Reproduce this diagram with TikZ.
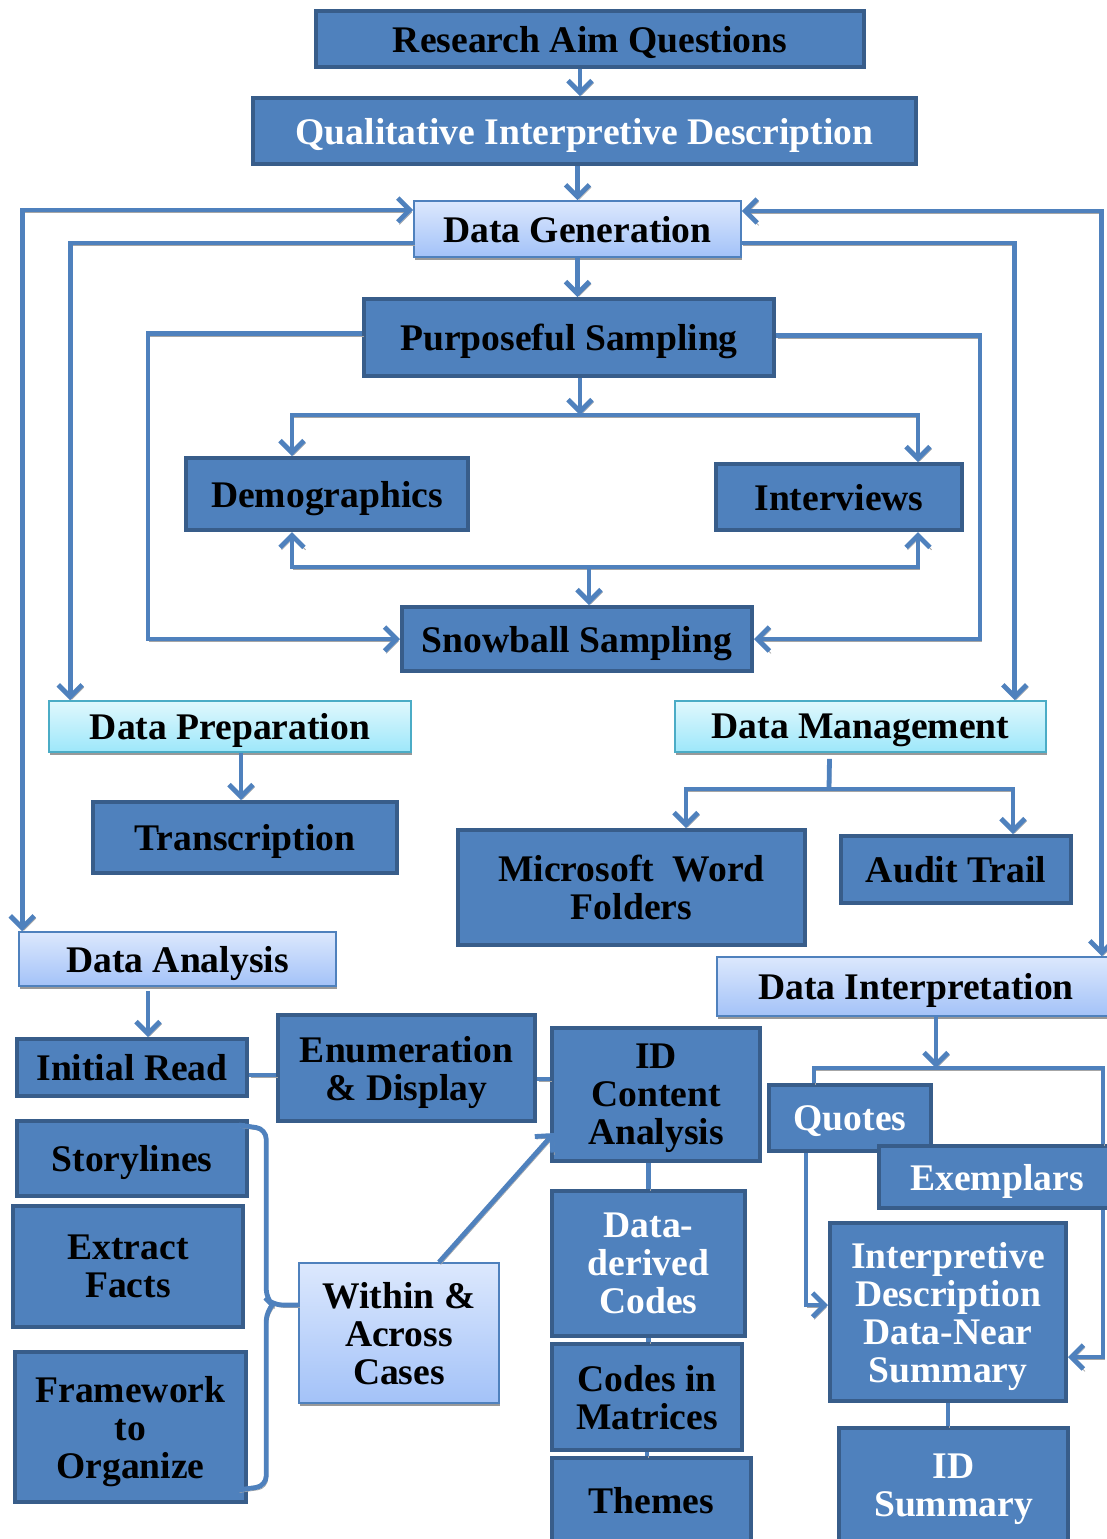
\documentclass[tikz,border=0pt]{standalone}
\usepackage{fontspec}
\setmainfont{Liberation Serif}
\usetikzlibrary{arrows.meta,shadows}
\definecolor{boxfill}{HTML}{4F81BD}
\definecolor{boxline}{HTML}{385D8A}
\definecolor{paleTop}{HTML}{DCE8FD}
\definecolor{paleBot}{HTML}{A3C2F8}
\definecolor{cyanTop}{HTML}{E0F8FD}
\definecolor{cyanBot}{HTML}{9DE7FA}
\definecolor{cyanLine}{HTML}{4BACC6}
\tikzset{
  boxsize/.style 2 args={minimum width=#1*0.5pt, minimum height=#2*0.5pt},
  darkbox/.style={draw=boxline, line width=2pt, fill=boxfill, align=center, inner sep=2pt,
    text depth=0pt, font=\fontsize{18.8}{19}\selectfont\bfseries},
  whitetext/.style={text=white},
  palebox/.style={darkbox, draw=boxfill, line width=0.8pt, top color=paleTop, bottom color=paleBot,
    drop shadow={shadow xshift=0.6pt, shadow yshift=-1.6pt, fill=black!40, opacity=1}},
  cyanbox/.style={palebox, draw=cyanLine, top color=cyanTop, bottom color=cyanBot},
  conn/.style={draw=boxfill, line width=2.4pt,
    preaction={draw=black!35, transform canvas={xshift=0.8pt, yshift=-1.2pt}}},
  arrowend/.style={-{Straight Barb[length=6pt, width=12pt]}},
  arrowboth/.style={{Straight Barb[length=6pt, width=12pt]}-{Straight Barb[length=6pt, width=12pt]}},
  brace/.style={conn, rounded corners=5pt}
}
\begin{document}
\begin{tikzpicture}[x=0.5pt, y=-0.5pt]
\useasboundingbox (0,0) rectangle (1107,1539);
% Generation part
\node[darkbox, boxsize={548}{56}] (raq) at (590,39) {Research Aim Questions};
\node[darkbox, whitetext, boxsize={663}{66}] (qid) at (584.5,131) {Qualitative Interpretive Description};
\node[palebox, boxsize={327}{56}] (dgen) at (577.5,229) {Data Generation};
\node[darkbox, boxsize={410}{77}] (psamp) at (569,337.5) {Purposeful Sampling};
\node[darkbox, boxsize={282}{72}] (demo) at (327,494) {Demographics};
\node[darkbox, boxsize={246}{66}] (intv) at (839,497) {Interviews};
\node[darkbox, boxsize={350}{64}] (snow) at (577,639) {Snowball Sampling};
% Preparation and management
\node[cyanbox, boxsize={362}{51}] (dprep) at (230,726.5) {Data Preparation};
\node[cyanbox, boxsize={371}{51}] (dman) at (860.5,726.5) {Data Management};
\node[darkbox, boxsize={304}{71}] (trans) at (245,837.5) {Transcription};
\node[darkbox, boxsize={347}{115}] (msw) at (631.5,887.5) {Microsoft\ \ Word\\Folders};
\node[darkbox, boxsize={230}{67}] (audit) at (956,869.5) {Audit Trail};
% Analysis part
\node[palebox, boxsize={317}{54}] (dana) at (177.5,959) {Data Analysis};
\node[darkbox, boxsize={230}{57}] (iread) at (132,1067.5) {Initial Read};
\node[darkbox, boxsize={257}{106}] (enum) at (406.5,1068) {Enumeration\\\& Display};
\node[darkbox, boxsize={208}{133}] (idca) at (656,1094.5) {ID\\Content\\Analysis};
\node[darkbox, boxsize={230}{75}] (story) at (132,1158.5) {Storylines};
\node[darkbox, boxsize={230}{121}] (extract) at (128,1266.5) {Extract\\Facts};
\node[darkbox, boxsize={231}{150}] (frame) at (130.5,1427) {Framework\\to\\Organize};
\node[palebox, boxsize={200}{140}] (within) at (399,1333) {Within \&\\Across\\Cases};
\node[darkbox, whitetext, boxsize={193}{145}] (ddc) at (648.5,1263.5) {Data-\\derived\\Codes};
\node[darkbox, boxsize={190}{106}] (cim) at (647,1397) {Codes in\\Matrices};
\node[darkbox, boxsize={199}{85}] (themes) at (651.5,1500) {Themes};
% Interpretation part
\node[palebox, boxsize={398}{59}] (dint) at (916,986.5) {Data Interpretation};
\node[darkbox, whitetext, boxsize={162}{66}] (quotes) at (850,1118) {Quotes};
\node[darkbox, whitetext, boxsize={236}{62}] (exemp) at (997,1177) {Exemplars};
\node[darkbox, whitetext, boxsize={236}{178}] (idesc) at (948,1312) {Interpretive\\Description\\Data-Near\\Summary};
\node[darkbox, whitetext, boxsize={229}{115}] (idsum) at (953.5,1485.5) {ID\\Summary};
% Connectors
\coordinate (psbar) at (580,415);
\coordinate (snbar) at (589,567);
\coordinate (dmbar) at (829,789);
\coordinate (dibar) at (936,1068);
\coordinate (bmid) at ([xshift=-16pt,yshift=14pt]within.west);
\draw[conn, arrowend] ([xshift=-5pt]raq.south) -- ([xshift=-5pt]raq.south |- qid.north);
\draw[conn, arrowend] (qid.south -| dgen.north) -- (dgen.north);
\draw[conn, arrowend] (dgen.south) -- (dgen.south |- psamp.north);
\draw[conn, arrowend] (psamp.south -| psbar) -- (psbar);
\draw[conn, arrowend] (psbar) -| ([xshift=-17.5pt]demo.north);
\draw[conn, arrowend] (psbar) -| ([xshift=39.5pt]intv.north);
\draw[conn, arrowend] (snbar) -| ([xshift=-17.5pt]demo.south);
\draw[conn, arrowend] (snbar) -| ([xshift=39.5pt]intv.south);
\draw[conn, arrowend] (snbar) -- (snbar |- snow.north);
\draw[conn, arrowend] ([yshift=2pt]psamp.west) -- ++(-214,0) |- (snow.west);
\draw[conn, arrowend] ([yshift=1pt]psamp.east) -- ++(204,0) |- (snow.east);
\draw[conn, arrowboth] ([xshift=2pt]dana.north west) |- ([yshift=9.5pt]dgen.west);
\draw[conn, arrowend] ([yshift=-7pt]dgen.west) -| ([xshift=11pt]dprep.north west);
\draw[conn, arrowboth] ([yshift=9pt]dgen.east) -| ([xshift=-7pt]dint.north east);
\draw[conn, arrowend] ([yshift=-7pt]dgen.east) -| ([xshift=-16pt]dman.north east);
\draw[conn, arrowend] ([xshift=-2pt]trans.north |- dprep.south) -- ([xshift=-2pt]trans.north);
\draw[conn] ([xshift=-15.5pt,yshift=-3pt]dman.south) -- (dmbar);
\draw[conn, arrowend] (dmbar) -| ([xshift=27.25pt]msw.north);
\draw[conn, arrowend] (dmbar) -| ([xshift=28.5pt]audit.north);
\draw[conn, arrowend] ([xshift=8pt,yshift=-2pt]iread.north |- dana.south) -- ([xshift=8pt]iread.north);
\draw[conn] ([yshift=-3.75pt]iread.east) -- ([yshift=-3.75pt]iread.east -| enum.west);
\draw[conn] ([yshift=-5.5pt]enum.east) -- ([yshift=-5.5pt]enum.east -| idca.west);
\draw[conn, arrowend] ([xshift=20pt]within.north) -- ([xshift=2pt,yshift=15pt]idca.south west);
\draw[brace] ([xshift=-5pt,yshift=-3pt]story.north east) -- ([yshift=-5pt]story.north east -| bmid)
  -- ([yshift=3pt]bmid) -- ([xshift=3pt]bmid) -- ([yshift=14pt]within.west);
\draw[brace] ([xshift=-5pt,yshift=7pt]frame.south east) -- ([yshift=9pt]frame.south east -| bmid)
  -- ([yshift=-3pt]bmid) -- ([xshift=3pt]bmid);
\draw[conn] (ddc.north |- idca.south) -- (ddc.north);
\draw[conn] (ddc.south) -- (ddc.south |- cim.north);
\draw[conn] (cim.south) -- (cim.south |- themes.north);
\draw[conn, arrowend] ([xshift=10pt]dint.south) -- (dibar);
\draw[conn] (dibar) -| ([xshift=-18pt]quotes.north);
\draw[conn] (dibar) -| ([xshift=-7pt]exemp.north east);
\draw[conn, arrowend] ([xshift=-7pt]exemp.south east) |- ([yshift=-22.5pt]idesc.east);
\draw[conn, arrowend] ([xshift=-22pt]quotes.south) |- ([yshift=3.5pt]idesc.west);
\draw[conn] (idesc.south) -- (idesc.south |- idsum.north);
\end{tikzpicture}
\end{document}
